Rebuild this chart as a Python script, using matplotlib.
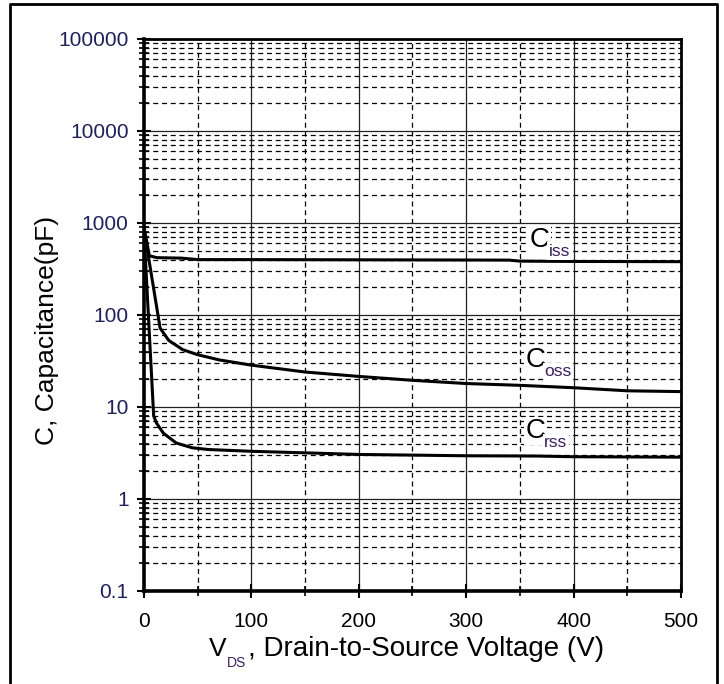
import numpy as np
import matplotlib.pyplot as plt
from matplotlib.lines import Line2D
from matplotlib.transforms import offset_copy
from matplotlib.ticker import FixedLocator, NullFormatter

plt.rcParams['font.family'] = ['Liberation Sans', 'DejaVu Sans']

# curves (V, pF)
ciss_v = [0, 5, 12, 35, 50, 100, 200, 300, 340, 350, 400, 500]
ciss_c = [900, 440, 420, 415, 400, 400, 398, 396, 395, 385, 382, 380]

coss_v = [0, 15, 23, 36, 50, 70, 100, 150, 200, 250, 300, 350, 400, 450, 500]
coss_c = [850, 72, 53, 42, 37, 32.5, 28.5, 24, 21.5, 19.5, 18, 17.2, 16.2, 15, 14.7]

crss_v = [0, 9, 11.6, 18, 30, 45, 60, 100, 160, 200, 300, 366, 400, 500]
crss_c = [800, 8, 6.7, 5.2, 4.06, 3.6, 3.45, 3.3, 3.15, 3.05, 2.95, 2.93, 2.88, 2.85]

x_major = [0, 100, 200, 300, 400, 500]
x_minor = [50, 150, 250, 350, 450]
y_major = [0.1, 1, 10, 100, 1000, 10000, 100000]
y_labels = ['0.1', '1', '10', '100', '1000', '10000', '100000']

# curve labels: (subscript, V, pF)
labels = [('iss', 359, 550), ('oss', 355, 27), ('rss', 355, 4.6)]

fig = plt.figure(figsize=(7.24, 6.84), dpi=100)
ax = fig.add_axes([144 / 724, 1 - 591 / 684, (681 - 144) / 724, (591 - 39) / 684])

ax.set_yscale('log')
ax.set_xlim(0, 500)
ax.set_ylim(0.1, 100000)

# grid: solid majors, dashed minors
for v in x_major[1:-1]:
    ax.axvline(v, color='#222222', lw=0.9, zorder=1)
for v in x_minor:
    ax.axvline(v, color='black', lw=0.9, ls=(0, (4, 3)), zorder=1)
y_minor = []
for d in y_major[:-1]:
    for k in range(2, 10):
        y_minor.append(d * k)
for v in y_major[1:-1]:
    ax.axhline(v, color='#222222', lw=0.9, zorder=1)
for v in y_minor:
    ax.axhline(v, color='black', lw=0.9, ls=(0, (4, 3)), zorder=1)

ax.plot(ciss_v, ciss_c, color='black', lw=2.2, zorder=3)
ax.plot(coss_v, coss_c, color='black', lw=2.2, zorder=3)
ax.plot(crss_v, crss_c, color='black', lw=2.2, zorder=3)

box = dict(facecolor='white', edgecolor='none', pad=1)
for sub, v, c in labels:
    ax.text(v, c, 'C', fontsize=20, zorder=4, va='baseline', bbox=box)
    ax.text(v, c, sub, fontsize=12.5, color='#3a2060', zorder=4, va='baseline', bbox=box,
            transform=offset_copy(ax.transData, fig=fig, x=19, y=-9, units='dots'))

ax.xaxis.set_major_locator(FixedLocator(x_major))
ax.xaxis.set_minor_locator(FixedLocator(x_minor))
ax.xaxis.set_minor_formatter(NullFormatter())
ax.set_xticklabels([str(v) for v in x_major])
ax.yaxis.set_major_locator(FixedLocator(y_major))
ax.yaxis.set_minor_locator(FixedLocator(y_minor))
ax.yaxis.set_minor_formatter(NullFormatter())
ax.set_yticklabels(y_labels)

ax.tick_params(which='major', direction='inout', length=10, width=1.5, labelsize=15)
ax.tick_params(which='minor', direction='inout', length=7, width=1.2)
ax.tick_params(axis='x', pad=10)
ax.tick_params(axis='y', pad=6, labelcolor='#20205a')

for s in ax.spines.values():
    s.set_linewidth(2)
ax.spines['left'].set_linewidth(2.6)
ax.spines['bottom'].set_linewidth(2.6)

# x label built from pieces so the subscript sits low like the original
fig.text(209 / 724, 1 - 656 / 684, 'V', fontsize=19, ha='left', va='baseline')
fig.text(227 / 724, 1 - 667 / 684, 'DS', fontsize=10, color='#3a2060',
         ha='left', va='baseline')
fig.text(248 / 724, 1 - 656 / 684, ', Drain-to-Source Voltage (V)', fontsize=20,
         ha='left', va='baseline')
fig.text(47 / 724, 1 - 330 / 684, 'C, Capacitance(pF)', fontsize=19,
         rotation=90, ha='center', va='center')

# outer frame (open at the bottom)
fx0, fx1, fy1 = 10 / 724, 717 / 724, 1 - 4 / 684
fig.add_artist(Line2D([fx0, fx0, fx1, fx1], [0, fy1, fy1, 0],
                      transform=fig.transFigure, color='black', lw=2))

fig.savefig('out.png', dpi=100)
